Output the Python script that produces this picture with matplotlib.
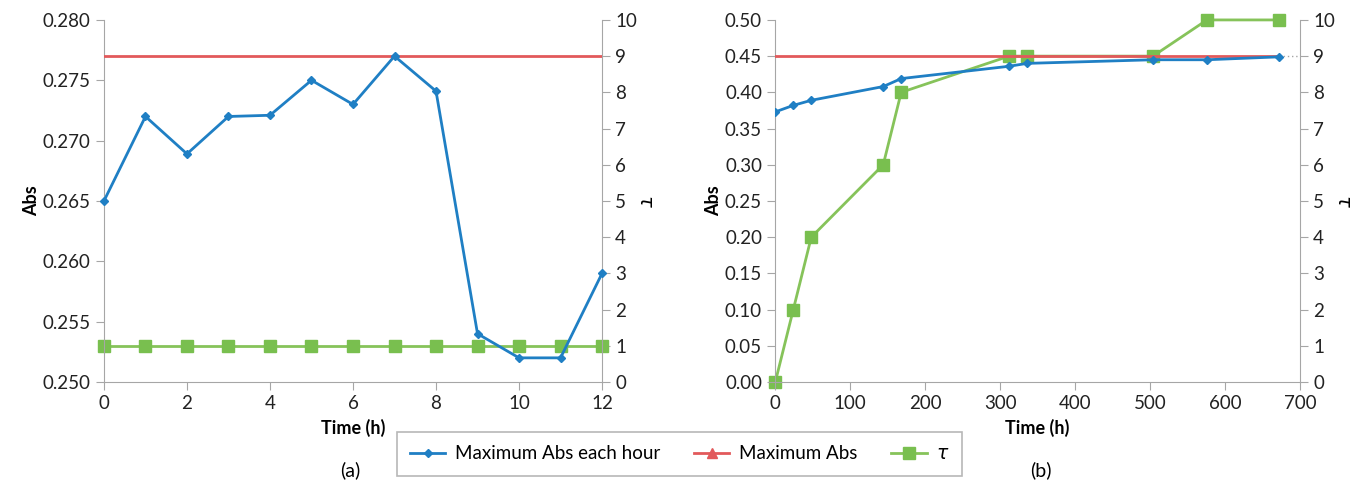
import matplotlib.pyplot as plt
from matplotlib.lines import Line2D

plt.rcParams['font.family'] = ['Lato', 'DejaVu Sans']

# panel (a)
time_a = [0, 1, 2, 3, 4, 5, 6, 7, 8, 9, 10, 11, 12]
abs_a = [0.265, 0.272, 0.2689, 0.272, 0.2721, 0.275, 0.273, 0.277, 0.2741, 0.254, 0.252, 0.252, 0.259]
max_a = 0.277
tau_a = [1, 1, 1, 1, 1, 1, 1, 1, 1, 1, 1, 1, 1]

# panel (b)
time_b = [0, 24, 48, 144, 168, 312, 336, 504, 576, 672]
abs_b = [0.373, 0.382, 0.389, 0.408, 0.419, 0.436, 0.440, 0.445, 0.445, 0.449]
max_b = 0.45
tau_b = [0, 2, 4, 6, 8, 9, 9, 9, 10, 10]

blue = '#1f7fc4'
red = '#e2595b'
green = '#86c35a'
gray = '#a6a6a6'

fig = plt.figure(figsize=(13.59, 4.86), dpi=100)
ax_a = fig.add_axes([0.0765, 0.214, 0.3665, 0.745])
ax_b = fig.add_axes([0.5705, 0.214, 0.386, 0.745])


def style(ax, tw):
    for s in ['left', 'bottom']:
        ax.spines[s].set_color(gray)
    ax.spines['top'].set_visible(False)
    ax.spines['right'].set_visible(False)
    ax.tick_params(colors=gray, labelcolor='#222222', labelsize=13.5, length=6)
    tw.spines['right'].set_color(gray)
    for s in ['top', 'left', 'bottom']:
        tw.spines[s].set_visible(False)
    tw.tick_params(colors=gray, labelcolor='#222222', labelsize=13.5, length=6)
    tw.set_ylim(0, 10)
    tw.set_yticks(range(0, 11))
    tw.set_ylabel(r'$\tau$', fontsize=14, rotation=270, labelpad=12)
    ax.set_ylabel('Abs', fontsize=13, fontweight='bold', labelpad=2)
    ax.set_xlabel('Time (h)', fontsize=13, fontweight='bold', labelpad=5)
    ax.set_zorder(tw.get_zorder() + 1)
    ax.patch.set_visible(False)


# (a)
tw_a = ax_a.twinx()
ax_a.plot([time_a[0], time_a[-1]], [max_a, max_a], color=red, lw=2, zorder=3)
tw_a.plot(time_a, tau_a, color=green, lw=2, marker='s', ms=8.5, mfc='#79bf4f', mec='#79bf4f')
ax_a.plot(time_a, abs_a, color=blue, lw=2, marker='D', ms=4, zorder=4, clip_on=False)
ax_a.set_xlim(0, 12)
ax_a.set_xticks(range(0, 13, 2))
ax_a.set_ylim(0.25, 0.28)
ax_a.set_yticks([0.25, 0.255, 0.26, 0.265, 0.27, 0.275, 0.28])
ax_a.set_yticklabels(['%.3f' % v for v in ax_a.get_yticks()])
style(ax_a, tw_a)
tw_a.set_xlim(0, 12)
for l in tw_a.lines:
    l.set_clip_on(False)

# (b)
tw_b = ax_b.twinx()
ax_b.plot([time_b[0], time_b[-1]], [max_b, max_b], color=red, lw=2, zorder=3)
ax_b.plot([time_b[-1], 700], [max_b, max_b], color=gray, lw=1, ls=(0, (1, 2)))
tw_b.plot(time_b, tau_b, color=green, lw=2, marker='s', ms=8.5, mfc='#79bf4f', mec='#79bf4f', clip_on=False)
ax_b.plot(time_b, abs_b, color=blue, lw=2, marker='D', ms=4, zorder=4)
ax_b.set_xlim(0, 700)
ax_b.set_xticks(range(0, 701, 100))
ax_b.set_ylim(0, 0.5)
ax_b.set_yticks([i * 0.05 for i in range(11)])
ax_b.set_yticklabels(['%.2f' % (i * 0.05) for i in range(11)])
style(ax_b, tw_b)
tw_b.set_xlim(0, 700)

fig.text(0.258, 0.02, '(a)', fontsize=14, ha='center')
fig.text(0.766, 0.02, '(b)', fontsize=14, ha='center')

handles = [
    Line2D([], [], color=blue, lw=2, marker='D', ms=4),
    Line2D([], [], color=red, lw=2, marker='^', ms=7),
    Line2D([], [], color=green, lw=2, marker='s', ms=8, mfc='#79bf4f', mec='#79bf4f'),
]
leg = fig.legend(handles, ['Maximum Abs each hour', 'Maximum Abs', r'$\tau$'],
                 loc='center', bbox_to_anchor=(0.5, 0.066), ncol=3, fontsize=13.5,
                 frameon=True, fancybox=False, edgecolor=gray, handlelength=1.9,
                 handletextpad=0.5, columnspacing=1.8, borderpad=0.7, borderaxespad=0)
leg.get_frame().set_linewidth(1.2)

fig.savefig('out.png', dpi=100)
